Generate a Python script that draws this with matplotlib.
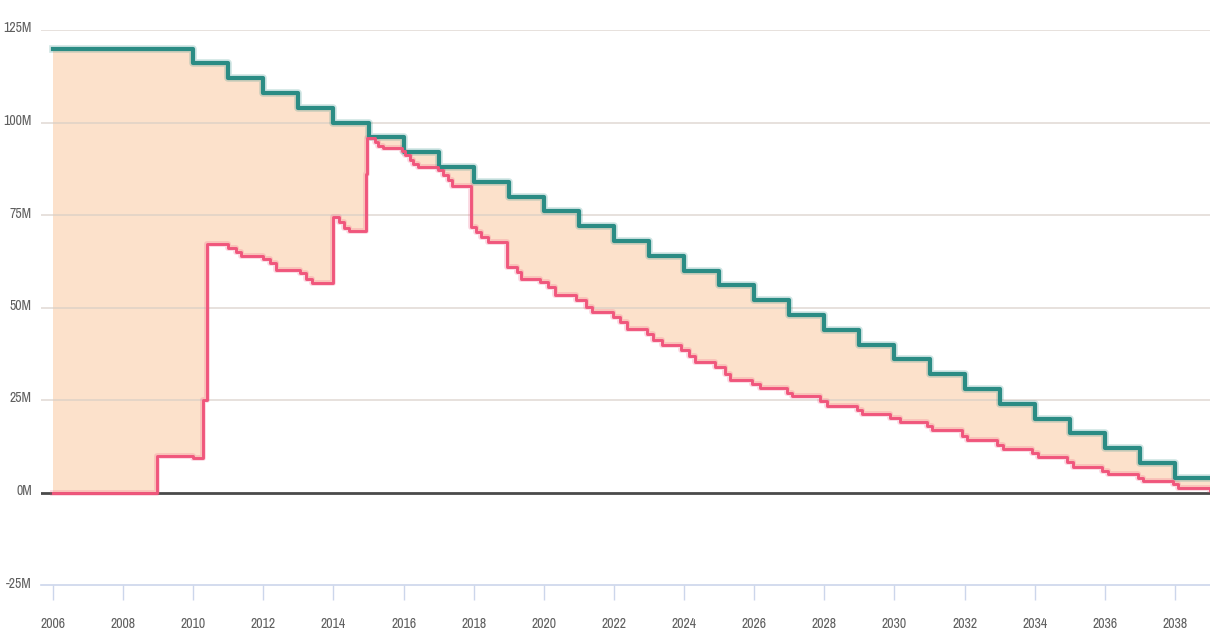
import numpy as np
import matplotlib
matplotlib.use("Agg")
import matplotlib.pyplot as plt
import matplotlib.transforms as mtransforms
from matplotlib import font_manager

# ---------------- data ----------------
green_years = [2006, 2010, 2011, 2012, 2013, 2014, 2015, 2016, 2017, 2018, 2019,
               2020, 2021, 2022, 2023, 2024, 2025, 2026, 2027, 2028, 2029, 2030,
               2031, 2032, 2033, 2034, 2035, 2036, 2037, 2038, 2039]
green_values = [120, 116, 112, 108, 104, 100, 96, 92, 88, 84, 80,
                76, 72, 68, 64, 60, 56, 52, 48, 44, 40, 36,
                32, 28, 24, 20, 16, 12, 8, 4, 4]

pink_dates = [2006.00, 2008.97, 2009.50, 2010.00, 2010.28, 2010.40,
              2011.00, 2011.22, 2011.35, 2012.00, 2012.19, 2012.36,
              2013.04, 2013.23, 2013.38, 2013.98, 2014.15, 2014.30, 2014.45,
              2014.93, 2014.96, 2015.18, 2015.27, 2015.40, 2015.95,
              2016.04, 2016.18, 2016.27, 2016.41, 2016.98, 2017.12, 2017.27, 2017.37,
              2017.93, 2018.07, 2018.21, 2018.40, 2018.94, 2019.22, 2019.36,
              2019.89, 2020.11, 2020.31, 2020.93, 2021.21, 2021.36,
              2021.98, 2022.18, 2022.36, 2022.95, 2023.12, 2023.36,
              2023.90, 2024.15, 2024.30, 2024.89, 2025.17, 2025.31,
              2025.93, 2026.17, 2026.93, 2027.07, 2027.88, 2028.07,
              2028.93, 2029.07, 2029.87, 2030.16, 2030.92, 2031.06,
              2031.92, 2032.07, 2032.92, 2033.10, 2033.91, 2034.10,
              2034.91, 2035.10, 2035.91, 2036.10, 2036.96, 2037.10,
              2037.95, 2038.10, 2039.00]
pink_values = [0.0, 10.0, 9.8, 9.4, 24.9, 67.1,
               66.2, 65.0, 63.9, 63.0, 61.9, 60.1,
               59.2, 57.8, 56.6, 74.4, 73.1, 71.6, 70.8,
               86.0, 95.7, 94.8, 93.7, 93.2, 92.3,
               91.2, 89.8, 88.9, 88.0, 87.1, 85.8, 84.4, 82.9,
               71.8, 70.4, 69.1, 67.6, 61.0, 59.6, 57.8,
               56.9, 55.5, 53.3, 51.9, 50.1, 48.9,
               47.4, 46.0, 44.3, 42.9, 41.3, 39.8,
               38.4, 36.8, 35.3, 33.9, 32.1, 30.5,
               29.4, 28.3, 27.0, 26.0, 24.6, 23.3,
               22.3, 21.3, 20.2, 19.0, 17.9, 16.8,
               15.3, 14.1, 12.8, 11.8, 10.6, 9.6,
               8.3, 7.0, 5.9, 5.0, 4.0, 3.2,
               2.3, 1.3, 0.6]

y_ticks = [-25, 0, 25, 50, 75, 100, 125]
y_tick_labels = ["-25M", "0M", "25M", "50M", "75M", "100M", "125M"]
x_ticks = list(range(2006, 2039, 2))
x_tick_labels = [str(y) for y in x_ticks]

# ---------------- style ----------------
GREEN = "#2b8c84"
PINK = "#f0567c"
FILL = "#fce1cb"
TEXT = "#5f5f5f"


def _w(f):
    w = f.weight
    if isinstance(w, str):
        w = {"light": 300, "normal": 400, "regular": 400, "book": 400,
             "medium": 500, "bold": 700}.get(w.lower(), 400)
    return w


narrow = []
for f in font_manager.fontManager.ttflist:
    lname = (f.name + " " + f.fname).lower()
    is_narrow = ("condensed" in lname or "narrow" in lname or
                 f.stretch in ("condensed", "semi-condensed", "extra-condensed"))
    if is_narrow and f.style == "normal" and "italic" not in lname and "oblique" not in lname:
        narrow.append(f)
narrow.sort(key=lambda f: (abs(_w(f) - 350), f.name))
if narrow:
    fp = font_manager.FontProperties(fname=narrow[0].fname, size=10)
else:
    fp = font_manager.FontProperties(family="DejaVu Sans", size=8.5)

fig = plt.figure(figsize=(12.10, 6.33), dpi=100)
ax = fig.add_axes([41 / 1210, (633 - 585) / 633, 1 - 41 / 1210, (585 - 30) / 633])

gx = np.array(green_years, dtype=float)
gy = np.array(green_values, dtype=float)
px = np.array(pink_dates, dtype=float)
py = np.array(pink_values, dtype=float)
allx = np.union1d(gx, px)
g_at = gy[np.searchsorted(gx, allx, side="right") - 1]
p_at = py[np.searchsorted(px, allx, side="right") - 1]

ax.fill_between(allx, p_at, g_at, step="post", facecolor=FILL,
                edgecolor="none", zorder=1)

for v in y_ticks:
    if v in (0, -25):
        continue
    ax.axhline(v, color="#d6cdc5", lw=1.4, alpha=0.6, zorder=2)
ax.axhline(0, color="#4a4a4a", lw=2.0, zorder=3)

ax.step(gx, gy, where="post", color=GREEN, lw=5.5, alpha=0.22, zorder=4)
ax.step(gx, gy, where="post", color=GREEN, lw=3.0, zorder=5)
ax.step(px, py, where="post", color=PINK, lw=4.2, alpha=0.22, zorder=4)
ax.step(px, py, where="post", color=PINK, lw=2.1, zorder=6)

ax.set_xlim(2006 - 12 / 35.06, 2039.0)
ax.set_ylim(-25, 125)

for s in ["top", "right", "left"]:
    ax.spines[s].set_visible(False)
ax.spines["bottom"].set_color("#ccd6eb")
ax.spines["bottom"].set_linewidth(1.2)

ax.set_yticks(y_ticks)
ax.set_yticklabels(y_tick_labels, fontproperties=fp, color=TEXT)
ax.tick_params(axis="y", length=0, pad=6.5)
ax.set_xticks(x_ticks)
ax.set_xticklabels(x_tick_labels, fontproperties=fp, color=TEXT)
ax.tick_params(axis="x", length=11, width=1, color="#ccd6eb", pad=12)

off = mtransforms.ScaledTranslation(0, 3 / 100, fig.dpi_scale_trans)
for lab in ax.get_yticklabels():
    lab.set_transform(lab.get_transform() + off)

fig.savefig("out.png", dpi=100)
